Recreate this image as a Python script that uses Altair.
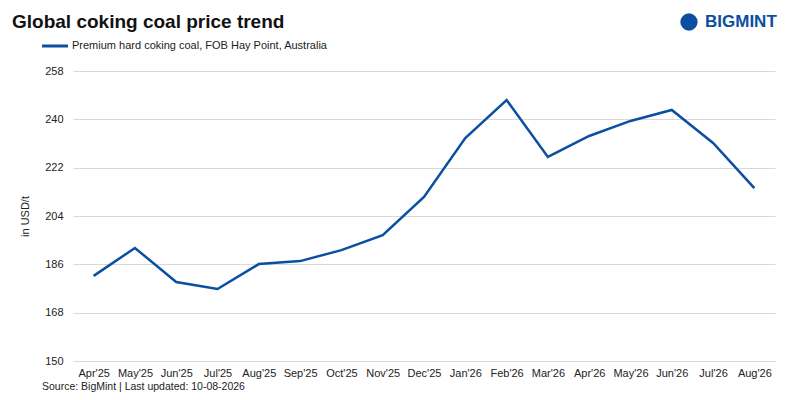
import altair as alt
import pandas as pd

months = ["Apr'25", "May'25", "Jun'25", "Jul'25", "Aug'25", "Sep'25", "Oct'25", "Nov'25",
          "Dec'25", "Jan'26", "Feb'26", "Mar'26", "Apr'26", "May'26", "Jun'26", "Jul'26", "Aug'26"]
prices = [181.7, 192.1, 179.4, 176.8, 186.1, 187.2, 191.3, 196.9,
          211.1, 233.0, 247.2, 226.0, 233.8, 239.4, 243.5, 231.2, 214.4]
y_ticks = [150, 168, 186, 204, 222, 240, 258]

LINE_COLOR = "#0b4ea2"
FONT = "Liberation Sans"

df = pd.DataFrame({"month": months, "price": prices})

line = alt.Chart(df).mark_line(color=LINE_COLOR, strokeWidth=2.5).encode(
    x=alt.X("month:O", sort=months, title=None,
            scale=alt.Scale(paddingOuter=0.5),
            axis=alt.Axis(labelAngle=0, ticks=False, domain=False, grid=False, labelPadding=6,
                          labelFontSize=11, labelColor="#222")),
    y=alt.Y("price:Q", title="in USD/t", scale=alt.Scale(domain=[150, 258], nice=False, zero=False),
            axis=alt.Axis(values=y_ticks, ticks=False, domain=False, grid=True, gridColor="#d9d9d9",
                          labelFontSize=11, labelColor="#222", labelPadding=10,
                          titleFontSize=11, titleFontWeight="normal", titleColor="#222",
                          titlePadding=14)),
)

def label(text, x, y, size=11, weight="normal", color="#222"):
    return alt.Chart(pd.DataFrame({"t": [text]})).mark_text(
        align="left", baseline="middle", font=FONT, fontSize=size, fontWeight=weight, color=color
    ).encode(text="t:N", x=alt.value(x), y=alt.value(y))

title = label("Global coking coal price trend", -61, -49, size=19, weight="bold", color="#111")
legend_txt = label("Premium hard coking coal, FOB Hay Point, Australia", -1, -25, size=11)
legend_line = alt.Chart(pd.DataFrame({"a": [0]})).mark_rule(color=LINE_COLOR, strokeWidth=3).encode(
    x=alt.value(-31), x2=alt.value(-5), y=alt.value(-25))
source = label("Source: BigMint | Last updated: 10-08-2026", -31, 26 + 290, size=10.5)
logo = label("BIGMINT", 632, -49, size=17, weight="bold", color=LINE_COLOR)
logo_icon = alt.Chart(pd.DataFrame({"a": [0]})).mark_point(
    shape="circle", size=300, filled=True, opacity=1, color=LINE_COLOR).encode(
    x=alt.value(616), y=alt.value(-49))

chart = alt.layer(line, title, legend_line, legend_txt, source, logo_icon, logo).properties(
    width=702, height=290, autosize="none",
    padding={"left": 65, "top": 63, "right": 17, "bottom": 40},
    background="white",
).configure_view(stroke=None).configure_axis(labelFont=FONT, titleFont=FONT)

chart.save("out.html", embed_options={"renderer": "svg", "actions": False})
